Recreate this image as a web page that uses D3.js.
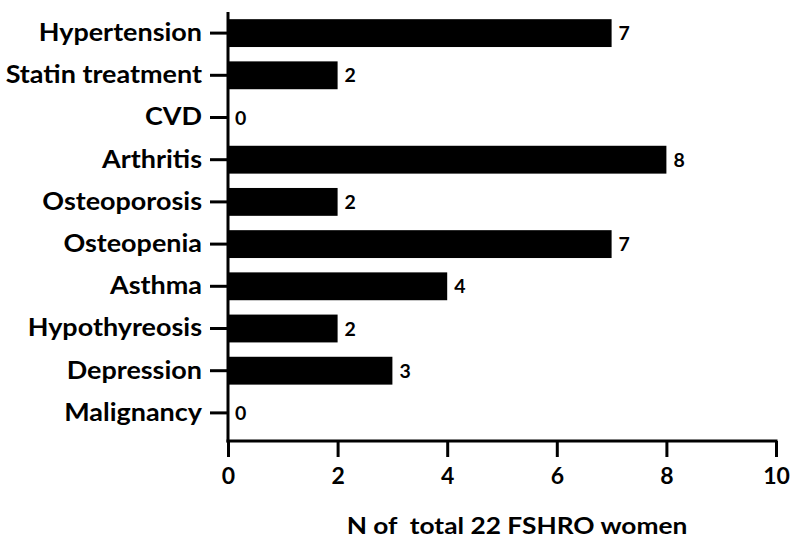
<!DOCTYPE html>
<html lang="en">
<head>
    <meta charset="UTF-8">
    <script src="https://d3js.org/d3.v7.min.js"></script>
    <title>Comorbidities</title>
    <style>
        body { margin: 0; background: #fff; }
        text { font-family: Lato, "Open Sans", sans-serif; font-weight: bold; fill: #000; }
    </style>
</head>
<body>
<script>
    const categories = ["Hypertension", "Statin treatment", "CVD", "Arthritis", "Osteoporosis",
        "Osteopenia", "Asthma", "Hypothyreosis", "Depression", "Malignancy"];
    const counts = [7, 2, 0, 8, 2, 7, 4, 2, 3, 0];
    const xTicks = [0, 2, 4, 6, 8, 10];
    const xTitle = "N of  total 22 FSHRO women";

    const width = 793, height = 539;
    const x0 = 228, x1 = 776, yTop = 12, yAxis = 441;
    const stretch = 1.1; // Lato is a bit narrower than the original font

    const svg = d3.select("body").append("svg")
        .attr("width", width)
        .attr("height", height);

    const x = d3.scaleLinear().domain([0, 10]).range([x0, x1]);
    const y = d3.scaleBand().domain(categories).range([yTop, 434]).paddingInner(0.34).paddingOuter(0.17);

    const data = categories.map((c, i) => ({ c, v: counts[i] }));

    // bars
    svg.selectAll("rect.bar")
        .data(data)
        .join("rect")
        .attr("class", "bar")
        .attr("x", x(0))
        .attr("y", d => y(d.c))
        .attr("width", d => x(d.v) - x(0))
        .attr("height", y.bandwidth())
        .attr("fill", "#000");

    // value labels
    svg.selectAll("text.val")
        .data(data)
        .join("text")
        .attr("class", "val")
        .attr("x", d => x(d.v) + 7)
        .attr("y", d => y(d.c) + y.bandwidth() / 2)
        .attr("dy", "0.36em")
        .attr("font-size", 19.5)
        .text(d => d.v);

    // y axis
    const yAx = svg.append("g")
        .attr("transform", `translate(${x0},0)`)
        .call(d3.axisLeft(y).tickSize(18).tickPadding(7));
    yAx.select(".domain").remove();
    yAx.selectAll(".tick line").attr("stroke", "#000").attr("stroke-width", 3);
    yAx.selectAll(".tick text")
        .attr("font-size", 24.5)
        .attr("fill", "#000")
        .attr("font-family", null)
        .attr("x", -26 / stretch)
        .attr("transform", `scale(${stretch},1)`);
    svg.append("line")
        .attr("x1", x0).attr("x2", x0)
        .attr("y1", yTop).attr("y2", yAxis + 1.5)
        .attr("stroke", "#000").attr("stroke-width", 3);

    // x axis
    const xAx = svg.append("g")
        .attr("transform", `translate(0,${yAxis})`)
        .call(d3.axisBottom(x).tickValues(xTicks).tickSize(16).tickPadding(11));
    xAx.select(".domain").remove();
    xAx.selectAll(".tick line").attr("stroke", "#000").attr("stroke-width", 3);
    xAx.selectAll(".tick text").attr("font-size", 23).attr("fill", "#000").attr("font-family", null);
    svg.append("line")
        .attr("x1", x0 - 1.5).attr("x2", x1 + 1.5)
        .attr("y1", yAxis).attr("y2", yAxis)
        .attr("stroke", "#000").attr("stroke-width", 3);

    svg.append("text")
        .attr("transform", "translate(517,534) scale(1.17,1)")
        .attr("text-anchor", "middle")
        .attr("font-size", 22.5)
        .attr("xml:space", "preserve")
        .style("white-space", "pre")
        .text(xTitle);
</script>
</body>
</html>
